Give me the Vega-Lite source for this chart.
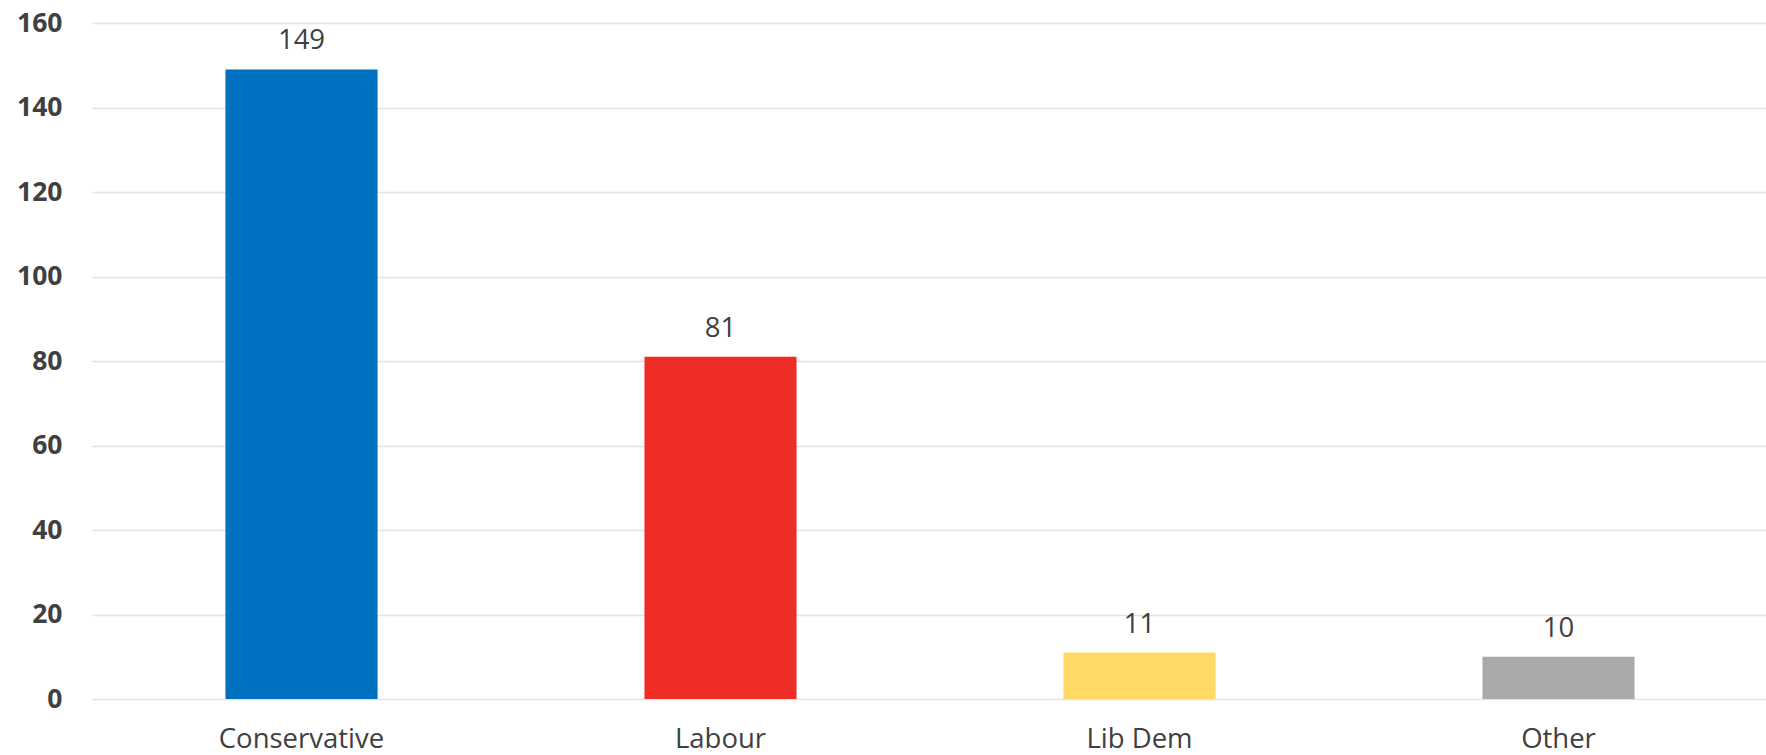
{
  "$schema": "https://vega.github.io/schema/vega-lite/v6.json",
  "width": 1676,
  "height": 676,
  "autosize": {"type": "none"},
  "padding": {"left": 92, "top": 23, "right": 0, "bottom": 56},
  "background": "white",
  "config": {"view": {"stroke": null}, "font": "Open Sans"},
  "data": {
    "values": [
      {"party": "Conservative", "seats": 149, "color": "#0070C0"},
      {"party": "Labour", "seats": 81, "color": "#EE2D27"},
      {"party": "Lib Dem", "seats": 11, "color": "#FFD966"},
      {"party": "Other", "seats": 10, "color": "#A9A9AC"}
    ]
  },
  "encoding": {
    "x": {
      "field": "party", "type": "nominal", "sort": null,
      "scale": {"paddingInner": 0.637, "paddingOuter": 0.3185},
      "axis": {"title": null, "labelAngle": 0, "domain": false, "ticks": false, "labelFont": "Open Sans", "labelFontSize": 27.5, "labelColor": "#404040", "labelPadding": 26, "grid": false}
    },
    "y": {
      "field": "seats", "type": "quantitative",
      "scale": {"domain": [0, 160], "nice": false},
      "axis": {"title": null, "values": [0, 20, 40, 60, 80, 100, 120, 140, 160], "domain": false, "ticks": false, "grid": true, "gridColor": "#E4E4E4", "gridWidth": 1.5, "labelFont": "Open Sans", "labelFontWeight": "bold", "labelFontSize": 26.5, "labelColor": "#404040", "labelPadding": 30}
    }
  },
  "layer": [
    {
      "mark": {"type": "bar"},
      "encoding": {"color": {"field": "color", "type": "nominal", "scale": null}}
    },
    {
      "mark": {"type": "text", "baseline": "alphabetic", "dy": -20, "fontSize": 27.5, "font": "Open Sans", "color": "#404040"},
      "encoding": {"text": {"field": "seats", "type": "quantitative"}}
    }
  ]
}
